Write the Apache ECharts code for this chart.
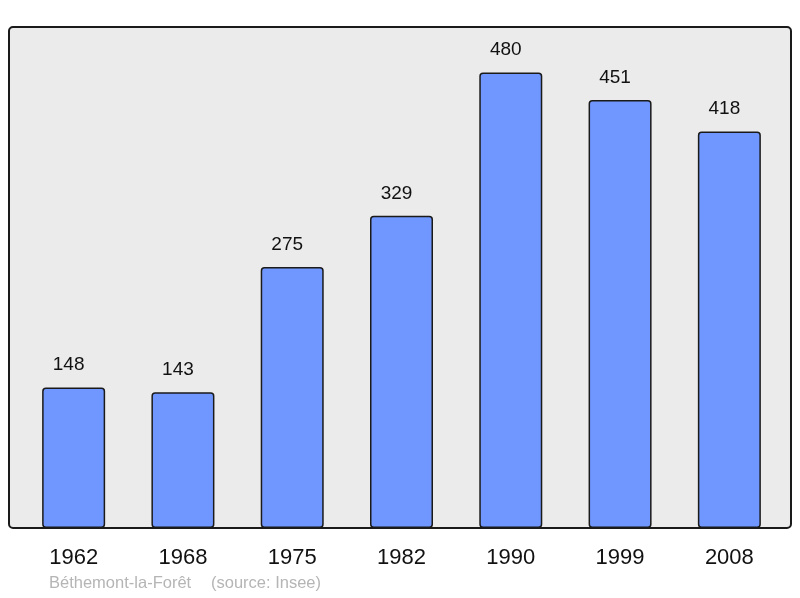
<!DOCTYPE html>
<html>
<head>
<meta charset="utf-8">
<script src="https://cdn.jsdelivr.net/npm/echarts@6/dist/echarts.min.js"></script>
<style>
  html, body { margin: 0; padding: 0; background: #fff; }
  #chart { width: 800px; height: 598px; }
</style>
</head>
<body>
<div id="chart"></div>
<script>
// données population
const years = ['1962', '1968', '1975', '1982', '1990', '1999', '2008'];
const population = [148, 143, 275, 329, 480, 451, 418];
const communeName = 'Béthemont-la-Forêt';
const sourceText = '(source: Insee)';

const chart = echarts.init(document.getElementById('chart'), null, { renderer: 'canvas' });

const font = 'Liberation Sans, Arial, sans-serif';

const option = {
  animation: false,
  textStyle: { fontFamily: font },
  graphic: [
    {
      type: 'rect',
      z: -10,
      shape: { x: 9, y: 27, width: 782, height: 501, r: 4 },
      style: { fill: '#ebebeb', stroke: '#1a1a1a', lineWidth: 2 }
    },
    {
      type: 'text',
      left: 49,
      top: 575,
      style: { text: communeName, fill: '#b5b5b5', fontSize: 16.5, fontFamily: font }
    },
    {
      type: 'text',
      left: 211,
      top: 575,
      style: { text: sourceText, fill: '#b5b5b5', fontSize: 16.5, fontFamily: font }
    }
  ],
  grid: { left: 19, right: 16, top: 27, bottom: 70 },
  xAxis: {
    type: 'category',
    data: years,
    axisLine: { show: false },
    axisTick: { show: false },
    axisLabel: { color: '#111', fontSize: 22, margin: 19 }
  },
  yAxis: {
    type: 'value',
    min: 0,
    max: 528,
    show: false,
    splitLine: { show: false }
  },
  series: [{
    type: 'bar',
    data: population,
    barWidth: 63,
    itemStyle: { color: '#7097ff', borderColor: '#1a1a1a', borderWidth: 1.5, borderRadius: 3 },
    label: { show: true, position: 'top', distance: 13, offset: [-5, 0], color: '#111', fontSize: 19 }
  }]
};

chart.setOption(option);
</script>
</body>
</html>
